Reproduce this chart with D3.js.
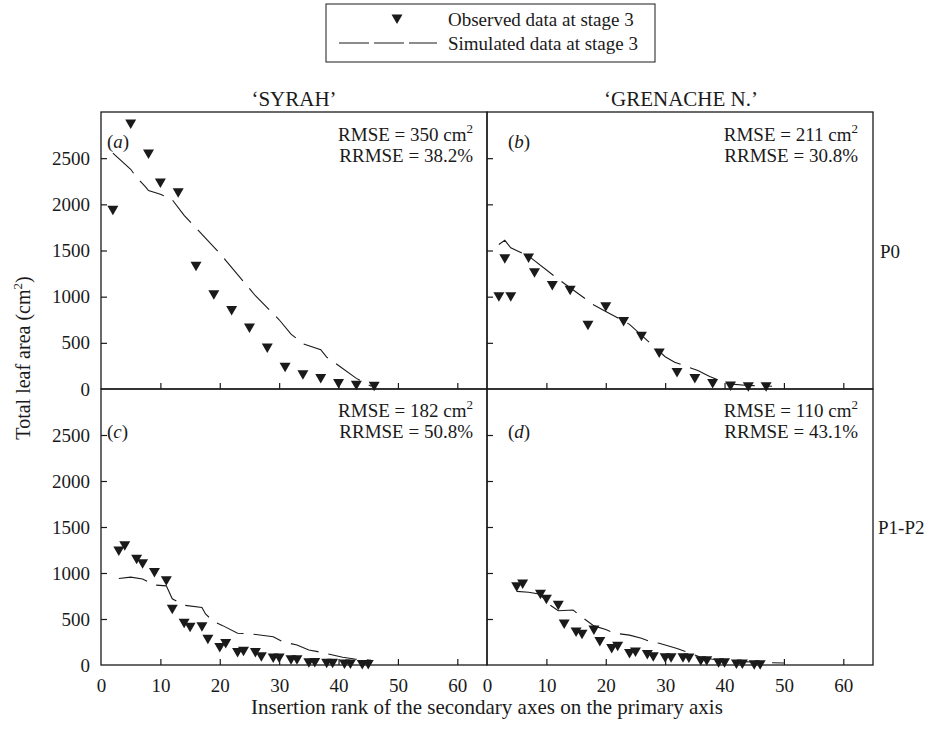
<!DOCTYPE html>
<html>
<head>
<meta charset="utf-8">
<script src="https://cdn.jsdelivr.net/npm/d3@7"></script>
<style>
  html, body { margin: 0; padding: 0; background: #fff; }
  svg { display: block; font-family: "Liberation Serif", "DejaVu Serif", serif; }
</style>
</head>
<body>
<svg id="chart" width="940" height="731"></svg>
<script>
// ---------- DATA ----------
const xTicks = [0, 10, 20, 30, 40, 50, 60];
const yTicks = [0, 500, 1000, 1500, 2000, 2500];
const varieties = ["\u2018SYRAH\u2019", "\u2018GRENACHE N.\u2019"];
const treatments = ["P0", "P1-P2"];
const panelLetters = ["a", "b", "c", "d"];
const rmseLabels = ["350", "211", "182", "110"];
const rrmseLabels = ["38.2%", "30.8%", "50.8%", "43.1%"];

// (a) Syrah P0
const obsA_x = [2, 5, 8, 10, 13, 16, 19, 22, 25, 28, 31, 34, 37, 40, 43, 46];
const obsA_y = [1935, 2870, 2545, 2230, 2125, 1330, 1020, 850, 660, 445, 235, 155, 115, 60, 40, 30];
const simA_x = [2, 5, 6, 7.5, 8, 10, 12, 14, 20, 26, 30, 32, 34, 37, 38, 40, 43, 44, 45.5];
const simA_y = [2555, 2380, 2290, 2190, 2150, 2110, 2050, 1880, 1470, 1010, 750, 595, 490, 425, 345, 255, 115, 80, 30];

// (b) Grenache P0
const obsB_x = [2, 3, 4, 7, 8, 11, 14, 17, 20, 23, 26, 29, 32, 35, 38, 41, 44, 47];
const obsB_y = [1000, 1410, 1000, 1420, 1260, 1120, 1070, 690, 890, 730, 570, 390, 180, 115, 60, 33, 25, 25];
const simB_x = [2, 3, 4, 7, 12, 18, 20, 24, 30, 31.6, 35.5, 37.5, 40.8, 43.4, 48];
const simB_y = [1565, 1610, 1530, 1440, 1190, 910, 840, 700, 350, 290, 200, 135, 55, 40, 30];

// (c) Syrah P1-P2
const obsC_x = [3, 4, 6, 7, 9, 11, 12, 14, 15, 17, 18, 20, 21, 23, 24, 26, 27, 29, 30, 32, 33, 35, 36, 38, 39, 41, 42, 44, 45];
const obsC_y = [1240, 1295, 1150, 1100, 1005, 915, 605, 455, 410, 415, 280, 190, 235, 135, 150, 135, 90, 75, 75, 58, 58, 25, 28, 20, 20, 12, 12, 5, 5];
const simC_x = [3, 5, 7, 9, 11, 12, 14, 17, 17.6, 19, 20.5, 23, 25, 29, 30.6, 33, 35, 36.5, 40.7, 42.7, 45.5];
const simC_y = [940, 955, 935, 870, 860, 720, 650, 625, 555, 470, 428, 345, 340, 308, 253, 217, 163, 145, 84, 65, 52];

// (d) Grenache P1-P2
const obsD_x = [5, 6, 9, 10, 12, 13, 15, 16, 18, 19, 21, 22, 24, 25, 27, 28, 30, 31, 33, 34, 36, 37, 39, 40, 42, 43, 45, 46];
const obsD_y = [850, 880, 770, 715, 650, 445, 360, 335, 380, 255, 180, 205, 125, 140, 115, 90, 80, 78, 80, 75, 47, 45, 25, 24, 12, 11, 4, 3];
const simD_x = [5, 7, 9, 10, 12, 14.5, 16, 18, 20, 21.5, 24, 26, 27.5, 29, 32, 33.5, 36, 38, 41, 47, 50];
const simD_y = [800, 790, 770, 680, 590, 598, 520, 425, 385, 345, 325, 290, 255, 236, 180, 145, 84, 62, 43, 25, 22];

const panelsData = [
  { obsX: obsA_x, obsY: obsA_y, simX: simA_x, simY: simA_y },
  { obsX: obsB_x, obsY: obsB_y, simX: simB_x, simY: simB_y },
  { obsX: obsC_x, obsY: obsC_y, simX: simC_x, simY: simC_y },
  { obsX: obsD_x, obsY: obsD_y, simX: simD_x, simY: simD_y }
];

// ---------- LAYOUT ----------
const svg = d3.select("#chart");
const FONT = 19;
const BIG = 21;
const ink = "#1a1a1a";
const colX = [[101, 487], [487, 873]];
const rowY = [[112, 389], [389, 665]];
const xDomain = [0, 65];
const yDomain = [0, 3000];
const fmt = d3.format("d");

const tri = "M-5.5,-4.5L5.5,-4.5L0,5Z";

function styleAxis(sel) {
  sel.select(".domain").remove();
  sel.selectAll(".tick line").attr("stroke", ink).attr("stroke-width", 1.2);
  sel.selectAll(".tick text").attr("font-size", FONT).attr("fill", ink)
    .attr("font-family", "Liberation Serif, serif");
}

panelsData.forEach((p, i) => {
  const col = i % 2, row = Math.floor(i / 2);
  const x = d3.scaleLinear().domain(xDomain).range(colX[col]);
  const y = d3.scaleLinear().domain(yDomain).range([rowY[row][1], rowY[row][0]]);
  const g = svg.append("g");

  // x axis (inward ticks)
  const xa = d3.axisBottom(x).tickValues(row === 1 ? xTicks : xTicks.slice(1))
    .tickSize(-6).tickPadding(14).tickFormat(row === 1 ? fmt : "");
  const xg = g.append("g").attr("transform", `translate(0,${rowY[row][1]})`).call(xa);
  styleAxis(xg);
  xg.selectAll(".tick").filter(d => d === 0).select("line").remove();

  // y axis (inward ticks)
  const ya = d3.axisLeft(y).tickValues(col === 0 ? yTicks : yTicks.slice(1))
    .tickSize(-6).tickPadding(11).tickFormat(col === 0 ? fmt : "");
  const yg = g.append("g").attr("transform", `translate(${colX[col][0]},0)`).call(ya);
  styleAxis(yg);
  yg.selectAll(".tick").filter(d => d === 0).select("line").remove();

  // border
  g.append("rect").attr("x", colX[col][0]).attr("y", rowY[row][0])
    .attr("width", colX[col][1] - colX[col][0]).attr("height", rowY[row][1] - rowY[row][0])
    .attr("fill", "none").attr("stroke", ink).attr("stroke-width", 1.3);

  // simulated dashed line
  const line = d3.line().x(d => x(d[0])).y(d => y(d[1]));
  g.append("path").datum(p.simX.map((v, k) => [v, p.simY[k]]))
    .attr("d", line).attr("fill", "none").attr("stroke", ink)
    .attr("stroke-width", 1.1).attr("stroke-dasharray", "29 10");

  // observed triangles
  g.selectAll("path.obs").data(p.obsX.map((v, k) => [v, p.obsY[k]])).enter()
    .append("path").attr("class", "obs").attr("d", tri)
    .attr("transform", d => `translate(${x(d[0])},${y(d[1])})`)
    .attr("fill", ink);

  // panel letter
  const lx = col === 0 ? 107 : 508;
  const ly = row === 0 ? 148 : 438;
  const lt = g.append("text").attr("x", lx).attr("y", ly).attr("font-size", FONT).attr("fill", ink);
  lt.append("tspan").text("(");
  lt.append("tspan").attr("font-style", "italic").text(panelLetters[i]);
  lt.append("tspan").text(")");

  // RMSE annotation
  const rx = col === 0 ? 473 : 858;
  const r1 = row === 0 ? 141 : 417;
  const t1 = g.append("text").attr("x", rx).attr("y", r1).attr("font-size", FONT)
    .attr("text-anchor", "end").attr("fill", ink);
  t1.append("tspan").text(`RMSE = ${rmseLabels[i]} cm`);
  t1.append("tspan").attr("font-size", 13).attr("dy", -8).text("2");
  g.append("text").attr("x", rx).attr("y", r1 + 21).attr("font-size", FONT)
    .attr("text-anchor", "end").attr("fill", ink).text(`RRMSE = ${rrmseLabels[i]}`);
});

// column titles
svg.append("text").attr("x", 294).attr("y", 106).attr("text-anchor", "middle")
  .attr("font-size", BIG).attr("fill", ink).text(varieties[0]);
svg.append("text").attr("x", 681).attr("y", 106).attr("text-anchor", "middle")
  .attr("font-size", BIG).attr("fill", ink).text(varieties[1]);

// row labels
svg.append("text").attr("x", 880).attr("y", 258).attr("font-size", FONT).attr("fill", ink).text(treatments[0]);
svg.append("text").attr("x", 878).attr("y", 534).attr("font-size", FONT).attr("fill", ink).text(treatments[1]);

// axis titles
svg.append("text").attr("x", 487).attr("y", 714).attr("text-anchor", "middle")
  .attr("font-size", BIG).attr("fill", ink)
  .text("Insertion rank of the secondary axes on the primary axis");
const yl = svg.append("text").attr("transform", "translate(30,358) rotate(-90)")
  .attr("text-anchor", "middle").attr("font-size", 20).attr("fill", ink);
yl.append("tspan").text("Total leaf area (cm");
yl.append("tspan").attr("font-size", 13).attr("dy", -8).text("2");
yl.append("tspan").attr("dy", 8).text(")");

// legend
const lg = svg.append("g");
lg.append("rect").attr("x", 326).attr("y", 4).attr("width", 329).attr("height", 58)
  .attr("fill", "#fff").attr("stroke", ink).attr("stroke-width", 1);
lg.append("path").attr("d", tri).attr("transform", "translate(397,19)").attr("fill", ink);
lg.append("line").attr("x1", 339).attr("x2", 437).attr("y1", 43).attr("y2", 43)
  .attr("stroke", ink).attr("stroke-width", 1.2).attr("stroke-dasharray", "30 5");
lg.append("text").attr("x", 448).attr("y", 26).attr("font-size", FONT).attr("fill", ink)
  .text("Observed data at stage 3");
lg.append("text").attr("x", 448).attr("y", 50).attr("font-size", FONT).attr("fill", ink)
  .text("Simulated data at stage 3");
</script>
</body>
</html>
